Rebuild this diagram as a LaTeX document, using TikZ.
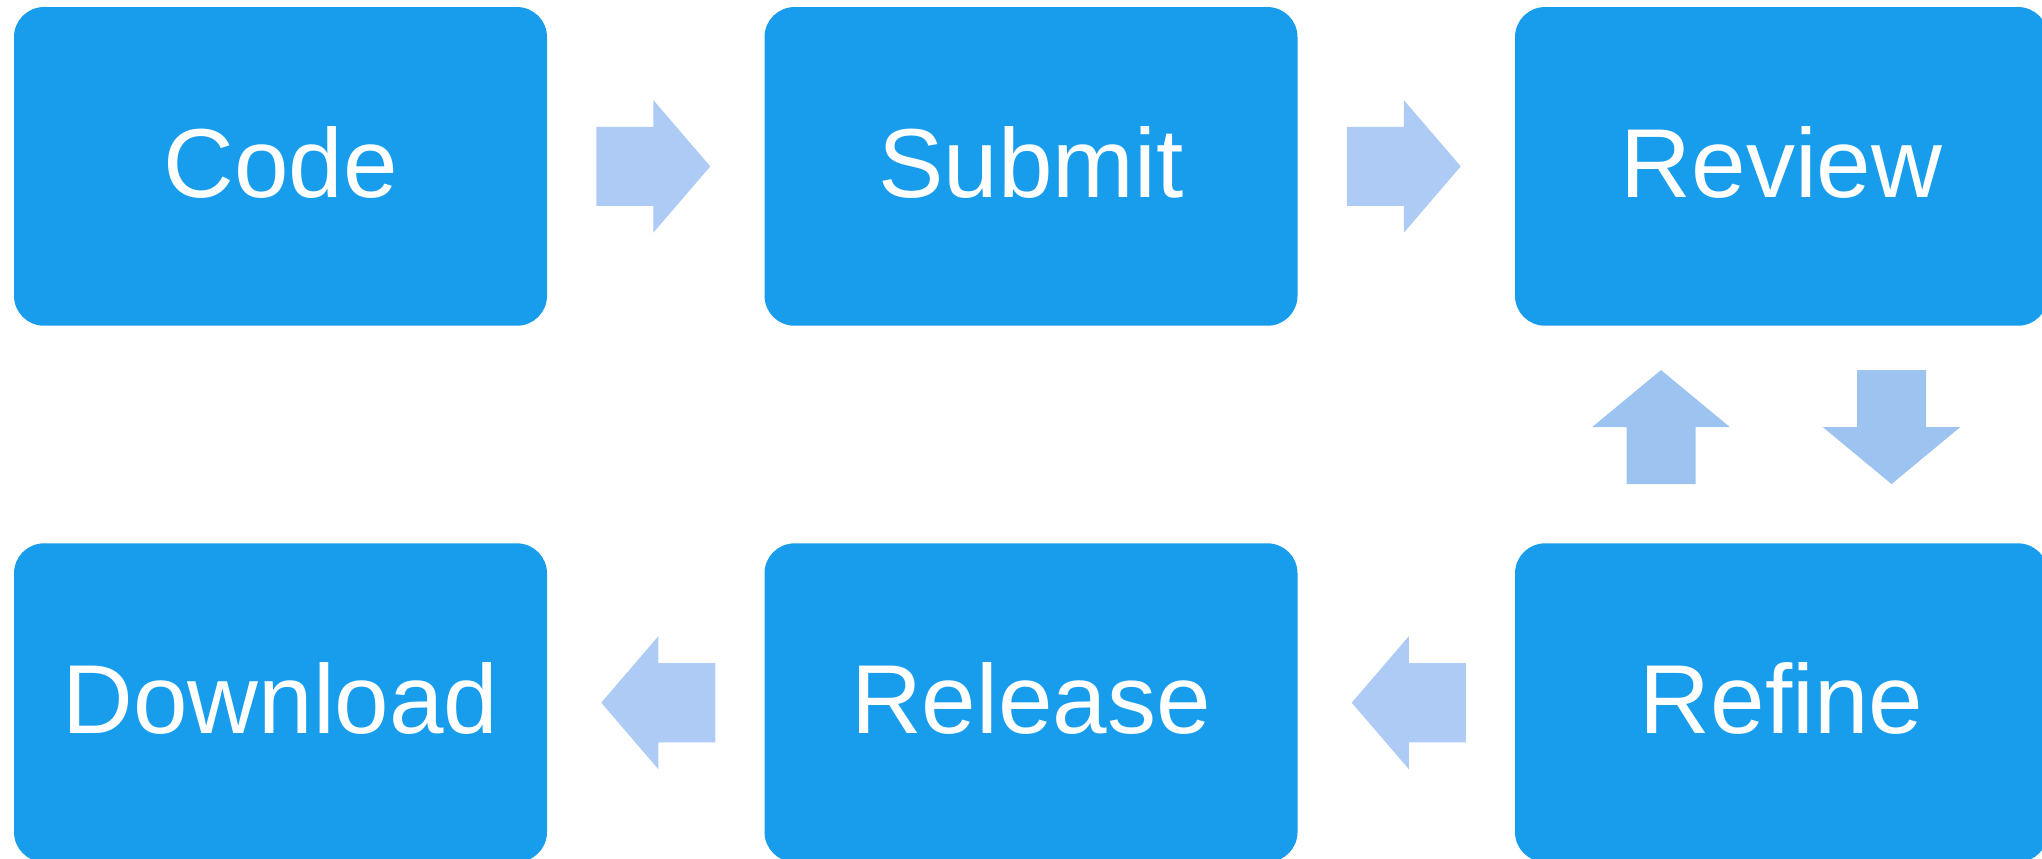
\documentclass[tikz,border=0pt]{standalone}
\usepackage{fontspec}
\setmainfont{Liberation Sans}
\usepackage{tikz}
\usetikzlibrary{positioning,calc}
\definecolor{stageblue}{RGB}{24,157,236}
\definecolor{flowblue}{RGB}{173,203,244}
\definecolor{loopblue}{RGB}{157,196,240}
\tikzstyle{stage}=[fill=stageblue, text=white, rounded corners=30pt,
  minimum width=533pt, minimum height=318.7pt, inner sep=0pt, outer sep=0pt,
  font=\fontsize{98}{98}\selectfont, text height=62pt, text depth=0pt]
\newcommand{\stage}[3]{node (#1)[stage,#2]{#3}}
% block arrow: position, colour, angle, half shaft, half head
\newcommand{\blockarrow}[5]{%
\fill[#2, shift={(#1)}, rotate=#3] (-57,-#4) -- (0,-#4) -- (0,-#5) -- (57,0)
  -- (0,#5) -- (0,#4) -- (-57,#4) -- cycle;}

\begin{document}
\begin{tikzpicture}[x=1pt,y=1pt]
  \useasboundingbox (0,0) rectangle (2042,859);

  % Draw diagram elements
  \path (280.5,692.6) \stage{code}{}{Code};
  \path \stage{submit}{right=217.5pt of code}{Submit};
  \path \stage{review}{right=217.5pt of submit}{Review};
  \path \stage{refine}{below=217.6pt of review}{Refine};
  \path \stage{release}{left=217.5pt of refine}{Release};
  \path \stage{download}{left=217.5pt of release}{Download};

  % Draw arrows between elements
  \blockarrow{$(code.east)!0.5!(submit.west)+(-2.5,0)$}{flowblue}{0}{39.6}{66.4}
  \blockarrow{$(submit.east)!0.5!(review.west)+(-2.5,0)$}{flowblue}{0}{39.6}{66.4}
  \blockarrow{$(refine.west)!0.5!(release.east)+(2.5,0)$}{flowblue}{180}{39.6}{66.4}
  \blockarrow{$(release.west)!0.5!(download.east)+(2.5,0)$}{flowblue}{180}{39.6}{66.4}
  \blockarrow{$(refine.north)!0.5!(review.south)+(-120.5,7.5)$}{loopblue}{90}{34.5}{68.8}
  \blockarrow{$(review.south)!0.5!(refine.north)+(110,7.5)$}{loopblue}{-90}{34.5}{68.8}

\end{tikzpicture}
\end{document}
